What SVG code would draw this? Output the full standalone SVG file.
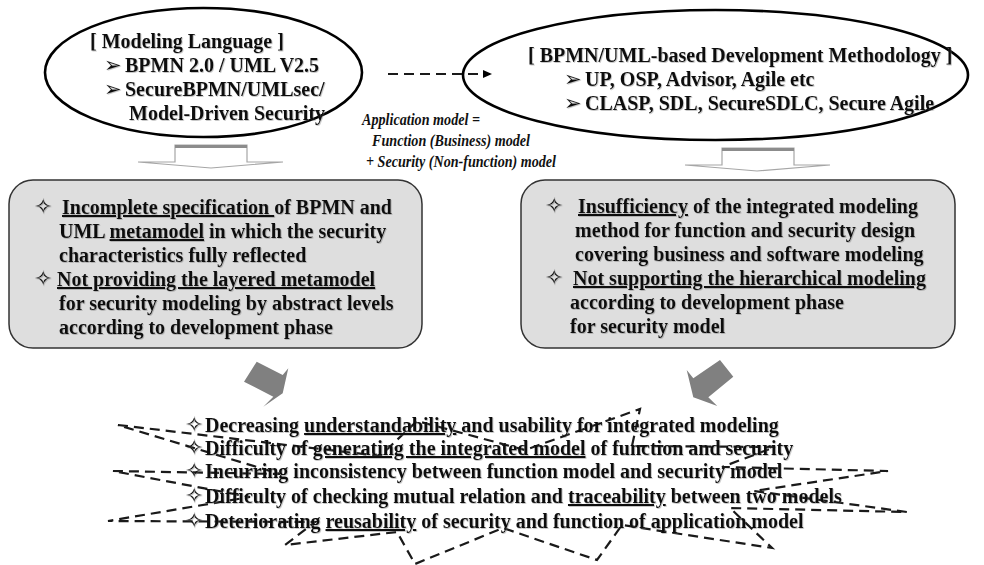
<svg xmlns="http://www.w3.org/2000/svg" width="984" height="565" viewBox="0 0 984 565">
  <defs>
    <filter id="soft" x="-5%" y="-20%" width="110%" height="140%">
      <feDropShadow dx="0.8" dy="0.8" stdDeviation="0.4" flood-color="#666" flood-opacity="0.45"/>
    </filter>
    <marker id="head" markerWidth="9" markerHeight="8" refX="7" refY="4" orient="auto" markerUnits="userSpaceOnUse">
      <path d="M0,0 L9,4 L0,8 Z" fill="#000"/>
    </marker>
  </defs>
  <style>
    .t { font-family: "Liberation Serif", "Times New Roman", serif; font-weight: bold; font-size: 20px; fill: #111; }
    .it { font-family: "Liberation Serif", "Times New Roman", serif; font-weight: bold; font-style: italic; font-size: 17px; fill: #111; }
    .sym { font-family: "DejaVu Sans", sans-serif; font-weight: bold; fill: #111; }
    .arw { font-size: 21px; }
    .star { font-size: 22px; }
    .u { text-decoration: underline; }
    .oval { fill: #fff; stroke: #000; stroke-width: 2.6; }
    .box { fill: #dedede; stroke: #333; stroke-width: 1.5; }
    .hollow { fill: #fff; stroke: #a6a6a6; stroke-width: 1.2; }
    .band { stroke: #8c8c8c; stroke-width: 3; }
    .solid { fill: #808080; }
    .dash { fill: none; stroke: #1a1a1a; stroke-width: 2.2; stroke-dasharray: 10 6; }
  </style>

  <rect width="984" height="565" fill="#fff"/>

  <!-- modeling language oval -->
  <g id="modeling-language">
    <ellipse class="oval" cx="203.5" cy="72.5" rx="158.5" ry="64.5"/>
    <g filter="url(#soft)">
      <text class="t" x="90" y="48">[ Modeling Language ]</text>
      <text class="sym arw" x="104" y="72">➢</text>
      <text class="t" x="125" y="72">BPMN 2.0 / UML V2.5</text>
      <text class="sym arw" x="104" y="96">➢</text>
      <text class="t" x="125" y="96">SecureBPMN/UMLsec/</text>
      <text class="t" x="129" y="120">Model-Driven Security</text>
    </g>
  </g>

  <!-- development methodology oval -->
  <g id="methodology">
    <ellipse class="oval" cx="715.5" cy="75" rx="252.5" ry="65"/>
    <g filter="url(#soft)">
      <text class="t" x="528" y="62">[ BPMN/UML-based Development Methodology ]</text>
      <text class="sym arw" x="564" y="86">➢</text>
      <text class="t" x="585" y="86">UP, OSP, Advisor, Agile etc</text>
      <text class="sym arw" x="564" y="110">➢</text>
      <text class="t" x="585" y="110">CLASP, SDL, SecureSDLC, Secure Agile</text>
    </g>
  </g>

  <!-- application model note -->
  <g id="application-model">
    <text class="it" x="362" y="125" textLength="118" lengthAdjust="spacingAndGlyphs">Application model =</text>
    <text class="it" x="372" y="146" textLength="158" lengthAdjust="spacingAndGlyphs">Function (Business) model</text>
    <text class="it" x="366" y="167" textLength="190" lengthAdjust="spacingAndGlyphs">+ Security (Non-function) model</text>
  </g>

  <!-- left problem box -->
  <g id="metamodel-issues">
    <rect class="box" x="9" y="180" width="413" height="168" rx="24"/>
    <g filter="url(#soft)">
      <text class="sym star" x="34" y="214">✧</text>
      <text class="t" x="62" y="214" xml:space="preserve"><tspan class="u">Incomplete specification </tspan><tspan>of BPMN and</tspan></text>
      <text class="t" x="59" y="238">UML <tspan class="u">metamodel</tspan> in which the security</text>
      <text class="t" x="59" y="262">characteristics fully reflected</text>
      <text class="sym star" x="34" y="286">✧</text>
      <text class="t" x="57" y="286"><tspan class="u">Not providing the layered metamodel</tspan></text>
      <text class="t" x="59" y="310">for security modeling by abstract levels</text>
      <text class="t" x="59" y="334">according to development phase</text>
    </g>
  </g>

  <!-- right problem box -->
  <g id="method-issues">
    <rect class="box" x="521" y="180" width="434" height="168" rx="24"/>
    <g filter="url(#soft)">
      <text class="sym star" x="545" y="213">✧</text>
      <text class="t" x="578" y="213"><tspan class="u">Insufficiency</tspan> of the integrated modeling</text>
      <text class="t" x="575" y="237">method for function and security design</text>
      <text class="t" x="575" y="261">covering business and software modeling</text>
      <text class="sym star" x="545" y="285">✧</text>
      <text class="t" x="573" y="285"><tspan class="u">Not supporting the hierarchical modeling</tspan></text>
      <text class="t" x="570" y="309">according to development phase</text>
      <text class="t" x="570" y="333">for security model</text>
    </g>
  </g>

  <!-- consequences burst -->
  <g id="consequences">
    <polygon class="dash" points="118,425 380,456 417,421 525,450 640,409 632,446 775,447 722,467 888,471 754,491 907,512 730,508 772,548 622,525 597,560 503,528 415,564 397,532 285,545 315,522 108,521 250,497 113,471 280,474"/>
    <g filter="url(#soft)">
      <text class="sym star" x="185" y="432">✧</text>
      <text class="t" x="205" y="432">Decreasing <tspan class="u">understandability</tspan> and usability for integrated modeling</text>
      <text class="sym star" x="185" y="455">✧</text>
      <text class="t" x="205" y="455">Difficulty of <tspan class="u">generating the integrated model</tspan> of function and security</text>
      <text class="sym star" x="185" y="478">✧</text>
      <text class="t" x="205" y="478">Incurring inconsistency between function model and security model</text>
      <text class="sym star" x="185" y="503">✧</text>
      <text class="t" x="205" y="503">Difficulty of checking mutual relation and <tspan class="u">traceability</tspan> between two models</text>
      <text class="sym star" x="185" y="528">✧</text>
      <text class="t" x="205" y="528">Deteriorating <tspan class="u">reusability</tspan> of security and function of application model</text>
    </g>
  </g>

  <!-- connectors -->
  <g id="connectors">
    <line class="dash" x1="388" y1="74" x2="490" y2="74" stroke-width="3" stroke-dasharray="12 8" marker-end="url(#head)"/>
    <polygon class="hollow" points="175,145 247,145 247,162 283,162 211,168 138,162 175,162"/>
    <line class="band" x1="175" y1="146.5" x2="247" y2="146.5"/>
    <polygon class="hollow" points="722,148 794,148 794,165 830,165 757,171 685,165 722,165"/>
    <line class="band" x1="722" y1="149.5" x2="794" y2="149.5"/>
    <polygon class="solid" points="256.7,361.7 282.7,375 288.3,368.3 282.7,393.3 263.3,406.7 273.3,396.7 244,381.7"/>
    <polygon class="solid" points="720,360 733.3,376.7 708.3,397.3 717.3,406 693.3,397.3 686.7,370 693.3,378.3"/>
  </g>
</svg>
